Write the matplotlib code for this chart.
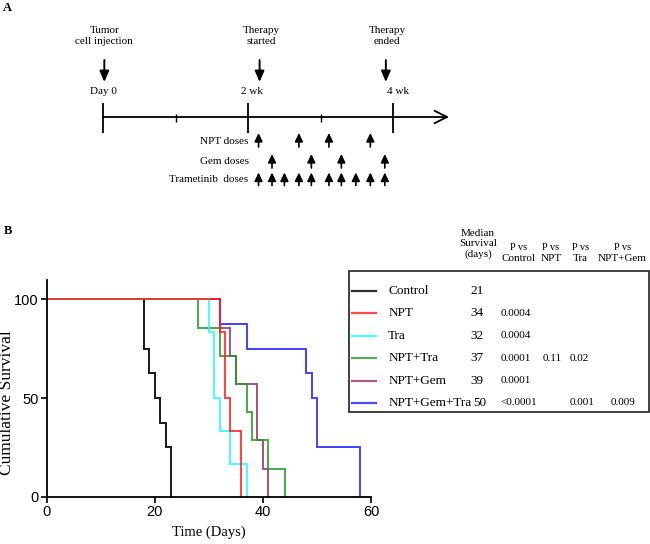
import matplotlib
matplotlib.use("Agg")
import matplotlib.pyplot as plt
from matplotlib.patches import Rectangle
import numpy as np

W, H = 650, 544

# ---------------- data ----------------
groups = ["Control", "NPT", "Tra", "NPT+Tra", "NPT+Gem", "NPT+Gem+Tra"]
colors = ["#000000", "#ff1f1f", "#22ffff", "#2b982b", "#993366", "#2020ff"]
death_control = [18, 18, 19, 20, 21, 22, 23, 23]
death_npt = [32, 33, 33, 34, 36, 36]
death_tra = [30, 31, 31, 32, 34, 37]
death_npt_tra = [28, 32, 35, 37, 38, 41, 44]
death_npt_gem = [32, 34, 35, 39, 39, 40, 41]
death_npt_gem_tra = [32, 37, 48, 49, 50, 50, 58, 58]
deaths = [death_control, death_npt, death_tra, death_npt_tra, death_npt_gem, death_npt_gem_tra]
median_survival = ["21", "34", "32", "37", "39", "50"]
p_vs_control = ["", "0.0004", "0.0004", "0.0001", "0.0001", "<0.0001"]
p_vs_npt = ["", "", "", "0.11", "", ""]
p_vs_tra = ["", "", "", "0.02", "", "0.001"]
p_vs_nptgem = ["", "", "", "", "", "0.009"]

x_ticks = [0, 20, 40, 60]
y_ticks = [0, 50, 100]

# timeline (panel A) in days
timeline_major = [0, 14, 28]
timeline_major_labels = ["Day 0", "2 wk", "4 wk"]
timeline_minor = [7, 21]
event_days = [0, 15.0, 27.2]
event_labels = ["Tumor\ncell injection", "Therapy\nstarted", "Therapy\nended"]
npt_doses = [15.0, 18.9, 21.8, 25.8]
gem_doses = [16.3, 20.1, 23.0, 27.2]
tram_doses = [15.0, 16.3, 17.5, 18.9, 20.1, 21.8, 23.0, 24.4, 25.8, 27.2]
dose_rows = [("NPT doses", npt_doses), ("Gem doses", gem_doses), ("Trametinib  doses", tram_doses)]

serif = ["Liberation Serif", "DejaVu Serif"]
sans = ["Liberation Sans", "DejaVu Sans"]

fig = plt.figure(figsize=(W / 100, H / 100), dpi=100)

def fx(px):
    return px / W

def fy(py):
    return 1 - py / H

# ---------------- Panel A ----------------
day0_px, px_per_day = 103.3, 10.35
axA = fig.add_axes([0, 0, 1, 1])
axA.set_xlim(-day0_px / px_per_day, (W - day0_px) / px_per_day)
axA.set_ylim(H, 0)
axA.axis("off")

fig.text(fx(3), fy(8), "A", family=serif, fontsize=9, weight="bold", va="center", ha="left")

# main line with arrow
axA.annotate("", xy=(33.4, 117), xytext=(0, 117),
             arrowprops=dict(arrowstyle="->,head_length=0.9,head_width=0.45", lw=1.3, color="black",
                             shrinkA=0, shrinkB=0))
for d, lab in zip(timeline_major, timeline_major_labels):
    axA.plot([d, d], [103, 133], color="black", lw=1.3, solid_capstyle="butt")
for d in timeline_minor:
    axA.plot([d, d], [113.5, 121.5], color="black", lw=1.0, solid_capstyle="butt")
label_off = [0, 0.35, 0.45]
for d, lab, off in zip(timeline_major, timeline_major_labels, label_off):
    axA.text(d + off, 92, lab, family=serif, fontsize=8, ha="center", va="center")

for d, lab in zip(event_days, event_labels):
    axA.text(d + (0.1 if d == 0 else 0.25), 36, lab, family=serif, fontsize=8, ha="center",
             va="center", linespacing=1.25)
    axA.annotate("", xy=(d + 0.1, 82), xytext=(d + 0.1, 60),
                 arrowprops=dict(arrowstyle="-|>,head_length=0.65,head_width=0.28", lw=1.4,
                                 color="black", shrinkA=0, shrinkB=0))

row_y = [(147, 133.0, 141.5), (168, 154.0, 161.5), (185.5, 172.5, 180)]
for (lab, doses), (yb, yt, yl) in zip(dose_rows, row_y):
    axA.text(-day0_px / px_per_day + 248.5 / px_per_day, yl, lab, family=serif, fontsize=8,
             ha="right", va="center")
    for d in doses:
        axA.annotate("", xy=(d, yt), xytext=(d, yb),
                     arrowprops=dict(arrowstyle="-|>,head_length=0.5,head_width=0.24", lw=1.2,
                                     color="black", shrinkA=0, shrinkB=0))

# ---------------- Panel B ----------------
fig.text(fx(7.5), fy(231), "B", family=serif, fontsize=9, weight="bold", va="center", ha="center")

left, right, bottom, top = 46.7, 371.0, 496.7, 280.0
axB = fig.add_axes([fx(left), fy(bottom), (right - left) / W, (bottom - top) / H])
axB.set_xlim(0, 60)
axB.set_ylim(0, 100 * (bottom - top) / (bottom - 299.3))
axB.spines["top"].set_visible(False)
axB.spines["right"].set_visible(False)
for s in ("left", "bottom"):
    axB.spines[s].set_linewidth(1.3)
axB.set_xticks(x_ticks)
axB.set_yticks(y_ticks)
axB.tick_params(direction="out", length=4, width=1.2, labelsize=10.5, pad=2)
for t in axB.get_xticklabels() + axB.get_yticklabels():
    t.set_family(sans)

def km(times):
    times = np.sort(np.array(times, dtype=float))
    n = len(times)
    xs, ys = [0.0], [100.0]
    alive = n
    for t in np.unique(times):
        k = np.sum(times == t)
        alive -= k
        xs.append(t)
        ys.append(100.0 * alive / n)
    return np.array(xs), np.array(ys)

draw_order = [0, 5, 4, 3, 2, 1]
for i in draw_order:
    xs, ys = km(deaths[i])
    axB.step(xs, ys, where="post", color=colors[i], lw=1.4, alpha=0.85 if i else 0.9,
             solid_joinstyle="miter", clip_on=False)

fig.text(fx(209), fy(532), "Time (Days)", family=serif, fontsize=10.5, ha="center", va="center")
fig.text(fx(7.5), fy(403), "Cumulative Survival", family=serif, fontsize=12.5, ha="center",
         va="center", rotation=90)

# ---------------- Legend table ----------------
box = Rectangle((fx(349.3), fy(412.3)), fx(649.3) - fx(349.3), fy(270.7) - fy(412.3),
                transform=fig.transFigure, fill=False, edgecolor="#333333", lw=1.3)
fig.add_artist(box)

fig.text(fx(478), fy(244), "Median\nSurvival\n(days)", family=serif, fontsize=8, ha="center",
         va="center", linespacing=1.15)
headers = [("Control", 518.3), ("NPT", 550.8), ("Tra", 580.5), ("NPT+Gem", 622.5)]
for lab, x in headers:
    fig.text(fx(x), fy(247.7), "P vs", family=serif, fontsize=7.5, ha="center", va="center")
    fig.text(fx(x), fy(258.5), lab, family=serif, fontsize=8, ha="center", va="center")

row_ys = [290.7, 313.3, 336.0, 358.3, 380.7, 402.7]
for i, g in enumerate(groups):
    y = row_ys[i]
    fig.add_artist(plt.Line2D([fx(351.7), fx(375.7)], [fy(y), fy(y)], transform=fig.transFigure,
                              color=colors[i], lw=1.6, alpha=0.8))
    fig.text(fx(388.3), fy(y), g, family=serif, fontsize=9.5, ha="left", va="center")
    mx = 480 if i == 5 else 476.7
    fig.text(fx(mx), fy(y), median_survival[i], family=serif, fontsize=9.5, ha="center", va="center")
    fig.text(fx(500.5), fy(y), p_vs_control[i], family=serif, fontsize=8, ha="left", va="center")
    fig.text(fx(542.3), fy(y), p_vs_npt[i], family=serif, fontsize=8, ha="left", va="center")
    fig.text(fx(569.3), fy(y), p_vs_tra[i], family=serif, fontsize=8, ha="left", va="center")
    fig.text(fx(610.7), fy(y), p_vs_nptgem[i], family=serif, fontsize=8, ha="left", va="center")

fig.savefig("out.png", dpi=100)
